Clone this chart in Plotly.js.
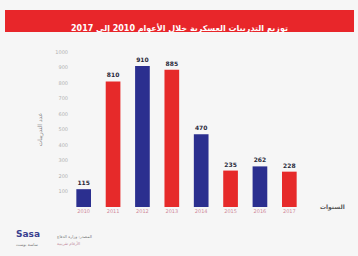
<!DOCTYPE html>
<html><head><meta charset="utf-8">
<script src="https://cdn.plot.ly/plotly-3.0.1.min.js"></script>
<style>html,body{margin:0;padding:0;background:#f6f6f6;}#c{width:358px;height:256px;}</style>
</head><body><div id="c"></div>
<script>
const years = ['2010','2011','2012','2013','2014','2015','2016','2017'];
const counts = [115, 810, 910, 885, 470, 235, 262, 228];
const barColors = ['#2b2f8f','#e62a2a','#2b2f8f','#e62a2a','#2b2f8f','#e62a2a','#2b2f8f','#e62a2a'];
const yTicks = [100,200,300,400,500,600,700,800,900,1000];

const trace = {
  type: 'bar', x: years, y: counts,
  marker: {color: barColors},
  width: 0.5,
  text: counts.map(v => '<b>' + v + '</b>'), textposition: 'outside',
  textfont: {family: 'DejaVu Sans', size: 6, color: '#2a2a3a'},
  cliponaxis: false, hoverinfo: 'none'
};

const layout = {
  width: 358, height: 256,
  paper_bgcolor: '#f6f6f6', plot_bgcolor: '#f6f6f6',
  margin: {l: 69, r: 54, t: 52, b: 49},
  showlegend: false,
  xaxis: {type: 'category', tickfont: {family: 'DejaVu Sans', size: 5, color: '#d08a9a'},
          showline: false, ticks: '', showgrid: false},
  yaxis: {range: [0, 1000], tickvals: yTicks, ticktext: yTicks.map(String),
          tickfont: {family: 'DejaVu Sans', size: 5, color: '#b0b0b0'},
          showgrid: false, zeroline: false, showline: false, ticks: '',
          title: {text: 'عدد التدريبات', font: {family: 'DejaVu Sans', size: 6, color: '#888'}, standoff: 12}},
  shapes: [{type: 'rect', xref: 'paper', yref: 'paper', x0: -0.2723, x1: 1.2128, y0: 1.129, y1: 1.271,
            fillcolor: '#e8262a', line: {width: 0}, layer: 'below'}],
  annotations: [
    {xref: 'paper', yref: 'paper', x: 0.47, y: 1.2, text: '<b>توزيع التدريبات العسكرية خلال الأعوام 2010 إلى 2017</b>',
     showarrow: false, font: {family: 'DejaVu Sans', size: 8, color: '#ffffff'}},
    {xref: 'paper', yref: 'paper', x: 1.06, y: 0.0, xanchor: 'left', yanchor: 'middle', text: '<b>السنوات</b>',
     showarrow: false, font: {family: 'DejaVu Sans', size: 6, color: '#555'}},
    {xref: 'paper', yref: 'paper', x: -0.234, y: -0.175, xanchor: 'left', yanchor: 'middle', text: '<b>Sasa</b>',
     showarrow: false, font: {family: 'DejaVu Sans', size: 9, color: '#3a3f8f'}},
    {xref: 'paper', yref: 'paper', x: -0.234, y: -0.245, xanchor: 'left', yanchor: 'middle', text: 'ساسة بوست',
     showarrow: false, font: {family: 'DejaVu Sans', size: 4, color: '#777'}},
    {xref: 'paper', yref: 'paper', x: -0.06, y: -0.19, xanchor: 'left', yanchor: 'middle', text: 'المصدر: وزارة الدفاع',
     showarrow: false, font: {family: 'DejaVu Sans', size: 4, color: '#777'}},
    {xref: 'paper', yref: 'paper', x: -0.06, y: -0.235, xanchor: 'left', yanchor: 'middle', text: 'الأرقام تقريبية',
     showarrow: false, font: {family: 'DejaVu Sans', size: 4, color: '#c08a9a'}}
  ]
};

Plotly.newPlot('c', [trace], layout, {staticPlot: true, displayModeBar: false});
</script></body></html>
